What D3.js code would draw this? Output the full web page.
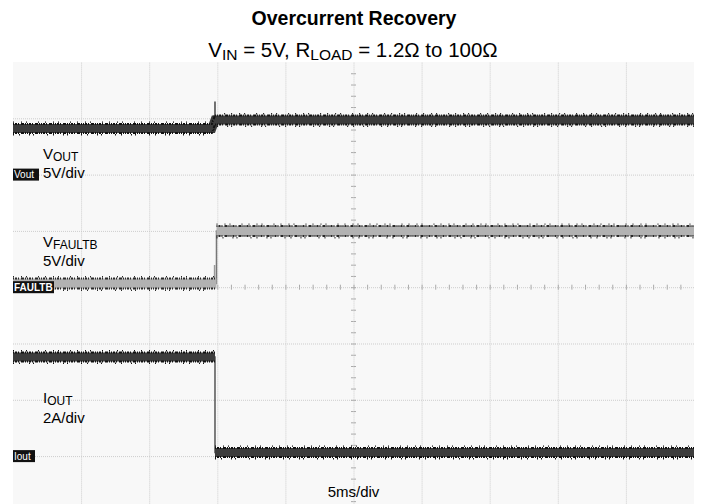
<!DOCTYPE html>
<html>
<head>
<meta charset="utf-8">
<script src="https://cdn.jsdelivr.net/npm/d3@7"></script>
<style>
  body { margin: 0; background: #fff; }
  text { font-family: "Liberation Sans", Arial, sans-serif; fill: #000; }
</style>
</head>
<body>
<div id="scope"></div>
<script>
// overall size of the picture
var svgWidth = 701;
var svgHeight = 504;

var plot = { left: 13, top: 62, width: 681, divH: 56.3 };

// time base: 5ms/div, 10 divisions
var timeDomain = [0, 50];
var gridTimes = [5, 10, 15, 20, 25, 30, 35, 40, 45];
var gridDivs = [-3, -2, -1, 0, 1, 2, 3];

// channels: marker name, ground position (divisions from center), units per div
var channelNames = ["Vout", "FAULTB", "Iout"];
var groundDiv = [2, 0, -3];
var unitsPerDiv = [5, 5, 2];

// traces (time in ms, value in V or A)
var voutT = [0, 14.6, 14.83, 50];
var voutV = [4.1, 4.1, 4.85, 4.85];
var faultbT = [0, 14.94, 14.94, 50];
var faultbV = [0.33, 0.33, 5.0, 5.0];
var ioutT = [0, 14.83, 14.83, 50];
var ioutA = [3.52, 3.52, 0.13, 0.13];

// short glitches at the switching edge: [time, from, to]
var voutSpike = [14.83, 4.5, 6.5];
var faultbSpike = [14.8, 0.33, 1.97];

var svg = d3.select("#scope")
  .append("svg")
  .attr("width", svgWidth)
  .attr("height", svgHeight);

var x = d3.scaleLinear().domain(timeDomain).range([plot.left, plot.left + plot.width]);
var yDiv = d3.scaleLinear().domain([4, -4]).range([plot.top, plot.top + 8 * plot.divH]);
var plotBottom = plot.top + 8 * plot.divH;

// value -> pixel for channel i
function yCh(i, v) { return yDiv(groundDiv[i] + v / unitsPerDiv[i]); }

// screen background
svg.append("rect")
  .attr("x", plot.left).attr("y", plot.top)
  .attr("width", plot.width).attr("height", 8 * plot.divH)
  .attr("fill", "#f8f8f8");

// graticule
var gridColor = "#cdcdcd";
var xGrid = svg.append("g")
  .attr("transform", `translate(0, ${plotBottom})`)
  .call(d3.axisBottom(x).tickValues(gridTimes).tickSize(-8 * plot.divH).tickFormat(""));
var yGrid = svg.append("g")
  .attr("transform", `translate(${plot.left}, 0)`)
  .call(d3.axisLeft(yDiv).tickValues(gridDivs).tickSize(-plot.width).tickFormat(""));
[xGrid, yGrid].forEach(function(g) {
  g.select(".domain").remove();
  g.selectAll("line").attr("stroke", gridColor).attr("stroke-dasharray", "1,1");
});

// minor ticks on the center lines
var minorT = d3.range(1, 50, 1);
var minorD = d3.range(-19, 20, 1).map(d => d / 5);
[d3.axisTop, d3.axisBottom].forEach(function(ax) {
  svg.append("g").attr("transform", `translate(0, ${yDiv(0)})`)
    .call(ax(x).tickValues(minorT).tickSize(2.5).tickFormat(""))
    .call(g => g.select(".domain").remove())
    .selectAll("line").attr("stroke", "#aaa");
});
[d3.axisLeft, d3.axisRight].forEach(function(ax) {
  svg.append("g").attr("transform", `translate(${x(25)}, 0)`)
    .call(ax(yDiv).tickValues(minorD).tickSize(2.5).tickFormat(""))
    .call(g => g.select(".domain").remove())
    .selectAll("line").attr("stroke", "#aaa");
});

// draws a noisy looking trace band
function band(pts, w, core, edge) {
  var line = d3.line().x(d => x(d[0])).y(d => d[1]);
  svg.append("path").attr("d", line(pts))
    .attr("fill", "none").attr("stroke", core).attr("stroke-width", w);
  [-1, 1].forEach(function(s) {
    var off = d3.line().x(d => x(d[0])).y(d => d[1] + s * w / 2);
    svg.append("path").attr("d", off(pts))
      .attr("fill", "none").attr("stroke", edge).attr("stroke-width", 2)
      .attr("stroke-dasharray", "1 1 2 1 1 2 3 1 1 1");
    var out = d3.line().x(d => x(d[0])).y(d => d[1] + s * (w / 2 + 1.8));
    svg.append("path").attr("d", out(pts))
      .attr("fill", "none").attr("stroke", edge).attr("stroke-width", 1.4)
      .attr("stroke-dasharray", s > 0 ? "1 5 1 9 1 3 1 13" : "1 7 1 4 1 11 1 6");
  });
}

function thin(pts, color) {
  svg.append("path")
    .attr("d", d3.line().x(d => x(d[0])).y(d => d[1])(pts))
    .attr("fill", "none").attr("stroke", color).attr("stroke-width", 1.5);
}

// flat segments of a step trace
function flats(t, v) {
  var segs = [];
  for (var i = 0; i < t.length - 1; i++) {
    if (v[i] === v[i + 1]) segs.push([[t[i], v[i]], [t[i + 1], v[i + 1]]]);
  }
  return segs;
}

// FAULTB (light grey band)
thin(faultbT.map((t, i) => [t, yCh(1, faultbV[i])]), "#777");
thin([[faultbSpike[0], yCh(1, faultbSpike[1])], [faultbSpike[0], yCh(1, faultbSpike[2])]], "#999");
flats(faultbT, faultbV).forEach(function(s) {
  band(s.map(d => [d[0], yCh(1, d[1])]), 10, "#b2b2b2", "#2a2a2a");
});

// VOUT (dark band, small ramp)
thin([[voutSpike[0], yCh(0, voutSpike[1])], [voutSpike[0], yCh(0, voutSpike[2])]], "#444");
band(voutT.map((t, i) => [t, yCh(0, voutV[i])]), 9, "#3c3c3c", "#111");

// IOUT (dark band)
thin(ioutT.map((t, i) => [t, yCh(2, ioutA[i])]), "#555");
flats(ioutT, ioutA).forEach(function(s) {
  band(s.map(d => [d[0], yCh(2, d[1])]), 9, "#3c3c3c", "#111");
});

// channel ground markers
var markerW = [26, 41, 22];
channelNames.forEach(function(name, i) {
  var yy = yDiv(groundDiv[i]);
  svg.append("rect")
    .attr("x", plot.left).attr("y", yy - 6)
    .attr("width", markerW[i]).attr("height", 12)
    .attr("fill", "#111");
  svg.append("text")
    .attr("x", plot.left + 1).attr("y", yy + 3.5)
    .attr("font-size", 10)
    .attr("font-weight", i === 1 ? "bold" : "normal")
    .style("fill", "#fff")
    .text(name);
});

// text with subscripts: parts = [[text, isSub], ...]
function richText(xx, yy, size, subSize, parts, anchor, weight, shift) {
  shift = shift || 2;
  var t = svg.append("text")
    .attr("x", xx).attr("y", yy)
    .attr("font-size", size)
    .attr("text-anchor", anchor || "start")
    .attr("font-weight", weight || "normal");
  var down = false;
  parts.forEach(function(p) {
    var sp = t.append("tspan").text(p[0]);
    if (p[1] && !down) { sp.attr("dy", shift).attr("font-size", subSize); down = true; }
    else if (p[1]) { sp.attr("font-size", subSize); }
    else if (down) { sp.attr("dy", -shift); down = false; }
  });
  return t;
}

// title
svg.append("text")
  .attr("x", 354).attr("y", 25)
  .attr("text-anchor", "middle")
  .attr("font-size", 19.5)
  .attr("font-weight", "bold")
  .text("Overcurrent Recovery");
richText(353, 57, 20.5, 15.5, [["V"], ["IN", 1], [" = 5V, R"], ["LOAD", 1], [" = 1.2\u03A9 to 100\u03A9"]], "middle", "normal", 3);

// channel labels
var labelX = 43;
richText(labelX, 159, 15, 12, [["V"], ["OUT", 1]]);
svg.append("text").attr("x", labelX).attr("y", 178).attr("font-size", 15).text("5V/div");
richText(labelX, 247, 15, 12, [["V"], ["FAULTB", 1]]);
svg.append("text").attr("x", labelX).attr("y", 266).attr("font-size", 15).text("5V/div");
richText(labelX, 403, 15, 12, [["I"], ["OUT", 1]]);
svg.append("text").attr("x", labelX).attr("y", 423).attr("font-size", 15).text("2A/div");

svg.append("text")
  .attr("x", x(25)).attr("y", 497)
  .attr("text-anchor", "middle")
  .attr("font-size", 15)
  .text("5ms/div");
</script>
</body>
</html>
